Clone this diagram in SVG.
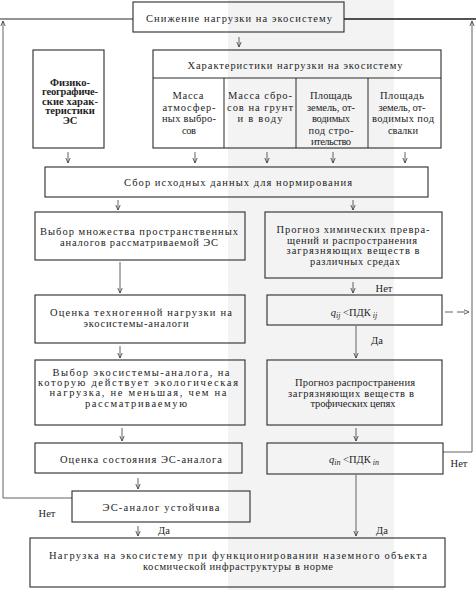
<svg xmlns="http://www.w3.org/2000/svg" width="476" height="590" viewBox="0 0 476 590">
<defs>
<style>
text{font-family:"Liberation Serif","Times New Roman",serif;font-size:10.5px;fill:#1e1e1e;text-anchor:middle}
.b{font-weight:bold}
.box{fill:none;stroke:#2a2a2a;stroke-width:1.1}
.ln{fill:none;stroke:#2a2a2a;stroke-width:1}
.thick{fill:none;stroke:#1a1a1a;stroke-width:1.6}
.arr{fill:none;stroke:#3a3a3a;stroke-width:0.8;marker-end:url(#ah)}
.dash{fill:none;stroke:#3a3a3a;stroke-width:0.8;stroke-dasharray:8 4;marker-end:url(#ah)}
.it{font-style:italic}
.sub{font-style:italic;font-size:8px}
</style>
<marker id="ah" viewBox="0 0 6 6" markerWidth="6" markerHeight="6" refX="5.5" refY="3" orient="auto" markerUnits="userSpaceOnUse">
<path d="M0.5,0.8 L5.5,3 L0.5,5.2" fill="none" stroke="#3a3a3a" stroke-width="0.8"/>
</marker>
</defs>
<rect x="0" y="0" width="476" height="590" fill="#ffffff"/>
<rect x="228" y="0" width="166" height="590" fill="#f3f3f3"/>

<g id="connectors">
<line class="arr" x1="239" y1="37" x2="239" y2="47"/>
<line class="arr" x1="68" y1="152" x2="68" y2="163"/>
<line class="arr" x1="195" y1="152" x2="195" y2="163"/>
<line class="arr" x1="267" y1="152" x2="267" y2="163"/>
<line class="arr" x1="333" y1="152" x2="333" y2="163"/>
<line class="arr" x1="405" y1="152" x2="405" y2="163"/>
<line class="arr" x1="118" y1="200" x2="118" y2="210"/>
<line class="arr" x1="353" y1="200" x2="353" y2="210"/>
<line class="arr" x1="120" y1="262" x2="120" y2="293"/>
<line class="arr" x1="353" y1="282" x2="353" y2="293"/>
<line class="arr" x1="356" y1="326" x2="356" y2="358"/>
<line class="dash" x1="445" y1="312" x2="469" y2="312"/>
<line class="arr" x1="120" y1="346" x2="120" y2="358"/>
<line class="arr" x1="122" y1="428" x2="122" y2="441"/>
<line class="arr" x1="356" y1="428" x2="356" y2="441"/>
<line class="arr" x1="138" y1="478" x2="138" y2="489"/>
<line class="arr" x1="138" y1="526" x2="138" y2="536"/>
<line class="arr" x1="356" y1="475" x2="356" y2="536"/>
<line class="ln" x1="0" y1="19" x2="133" y2="19"/>
<line class="thick" x1="344" y1="19" x2="476" y2="19"/>
<polyline class="arr" points="72,498 3,498 3,21"/>
<polyline class="arr" points="443,452 472,452 472,21"/>
<text x="384" y="291.5">Нет</text>
<text x="377" y="343.5">Да</text>
<text x="459" y="466.5">Нет</text>
<text x="47" y="516.5">Нет</text>
<text x="164" y="533.5">Да</text>
<text x="382" y="533.5">Да</text>
</g>

<g id="n-reduce">
<rect class="box" x="133" y="2" width="211" height="30"/>
<text x="239" y="22" textLength="186" lengthAdjust="spacing">Снижение нагрузки на экосистему</text>
</g>

<g id="n-chars">
<rect class="box" x="153" y="50" width="288" height="98"/>
<line class="ln" x1="153" y1="78" x2="441" y2="78"/>
<line class="ln" x1="224" y1="78" x2="224" y2="148"/>
<line class="ln" x1="296" y1="78" x2="296" y2="148"/>
<line class="ln" x1="368" y1="78" x2="368" y2="148"/>
<text x="295" y="68.5" textLength="215" lengthAdjust="spacing">Характеристики нагрузки на экосистему</text>
<text x="188" y="99" textLength="31" lengthAdjust="spacing">Масса</text>
<text x="189" y="110.5" textLength="53" lengthAdjust="spacing">атмосфер-</text>
<text x="189" y="122" textLength="54" lengthAdjust="spacing">ных выбро-</text>
<text x="189" y="133.5" textLength="14" lengthAdjust="spacing">сов</text>
<text x="260" y="99" textLength="64" lengthAdjust="spacing">Масса сбро-</text>
<text x="260" y="110.5" textLength="66" lengthAdjust="spacing">сов на грунт</text>
<text x="260" y="122" textLength="45" lengthAdjust="spacing">и в воду</text>
<text x="331" y="99" textLength="42" lengthAdjust="spacing">Площадь</text>
<text x="331" y="110.5" textLength="48" lengthAdjust="spacing">земель, от-</text>
<text x="331" y="122" textLength="38" lengthAdjust="spacing">водимых</text>
<text x="331" y="133.5" textLength="45" lengthAdjust="spacing">под стро-</text>
<text x="331" y="145" textLength="40" lengthAdjust="spacing">ительство</text>
<text x="402" y="99" textLength="44" lengthAdjust="spacing">Площадь</text>
<text x="402" y="110.5" textLength="47" lengthAdjust="spacing">земель, от-</text>
<text x="403" y="122" textLength="62" lengthAdjust="spacing">водимых под</text>
<text x="403" y="133.5" textLength="30" lengthAdjust="spacing">свалки</text>
</g>

<g id="n-physgeo">
<rect class="box" x="33" y="50" width="71" height="98"/>
<text class="b" x="70" y="85.5">Физико-</text>
<text class="b" x="70" y="95" textLength="56" lengthAdjust="spacing">географиче-</text>
<text class="b" x="70" y="104.5" textLength="56" lengthAdjust="spacing">ские харак-</text>
<text class="b" x="70" y="114">теристики</text>
<text class="b" x="70" y="123.5">ЭС</text>
</g>

<g id="n-collect">
<rect class="box" x="45" y="167" width="383" height="30"/>
<text x="238" y="185.5" textLength="228" lengthAdjust="spacing">Сбор исходных данных для нормирования</text>
</g>

<g id="n-analogs">
<rect class="box" x="35" y="212" width="210" height="48"/>
<text x="139" y="234.5" textLength="198" lengthAdjust="spacing">Выбор множества пространственных</text>
<text x="139" y="245.5" textLength="158" lengthAdjust="spacing">аналогов рассматриваемой ЭС</text>
</g>

<g id="n-chem">
<rect class="box" x="265" y="212" width="177" height="66"/>
<text x="353" y="232.5" textLength="153" lengthAdjust="spacing">Прогноз химических превра-</text>
<text x="352" y="243.5" textLength="130" lengthAdjust="spacing">щений и распространения</text>
<text x="353" y="253.5" textLength="133" lengthAdjust="spacing">загрязняющих веществ в</text>
<text x="355" y="264.5" textLength="90" lengthAdjust="spacing">различных средах</text>
</g>

<g id="n-techload">
<rect class="box" x="35" y="295" width="210" height="48"/>
<text x="141" y="315.5" textLength="182" lengthAdjust="spacing">Оценка техногенной нагрузки на</text>
<text x="136" y="326.5" textLength="105" lengthAdjust="spacing">экосистемы-аналоги</text>
</g>

<g id="n-qij">
<rect class="box" x="267" y="295" width="175" height="30"/>
<text x="354" y="315.5" font-size="12.5"><tspan class="it">q</tspan><tspan class="sub" dy="2">ij</tspan><tspan dy="-2"> &lt;ПДК</tspan><tspan class="sub" dy="2"> ij</tspan></text>
</g>

<g id="n-choose">
<rect class="box" x="35" y="360" width="210" height="65"/>
<text x="141" y="375.5" textLength="177" lengthAdjust="spacing">Выбор экосистемы-аналога, на</text>
<text x="138" y="385.5" textLength="200" lengthAdjust="spacing">которую действует экологическая</text>
<text x="138" y="395.5" textLength="177" lengthAdjust="spacing">нагрузка, не меньшая, чем на</text>
<text x="136" y="406.5" textLength="102" lengthAdjust="spacing">рассматриваемую</text>
</g>

<g id="n-trophic">
<rect class="box" x="267" y="360" width="175" height="65"/>
<text x="355" y="385.5" textLength="120" lengthAdjust="spacing">Прогноз распространения</text>
<text x="351" y="396.5" textLength="126" lengthAdjust="spacing">загрязняющих веществ в</text>
<text x="353" y="406.5" textLength="85" lengthAdjust="spacing">трофических цепях</text>
</g>

<g id="n-state">
<rect class="box" x="35" y="443" width="207" height="30"/>
<text x="141" y="462.5" textLength="162" lengthAdjust="spacing">Оценка состояния ЭС-аналога</text>
</g>

<g id="n-qin">
<rect class="box" x="267" y="443" width="176" height="31"/>
<text x="354" y="462.5" font-size="12.5"><tspan class="it">q</tspan><tspan class="sub" dy="2">in</tspan><tspan dy="-2"> &lt;ПДК</tspan><tspan class="sub" dy="2"> in</tspan></text>
</g>

<g id="n-stable">
<rect class="box" x="72" y="491" width="178" height="31"/>
<text x="161" y="510.5" textLength="117" lengthAdjust="spacing">ЭС-аналог устойчива</text>
</g>

<g id="n-norm">
<rect class="box" x="30" y="538" width="415" height="49"/>
<text x="238" y="559" textLength="378" lengthAdjust="spacing">Нагрузка на экосистему при функционировании наземного объекта</text>
<text x="238" y="569.5" textLength="190" lengthAdjust="spacing">космической инфраструктуры в норме</text>
</g>
</svg>
